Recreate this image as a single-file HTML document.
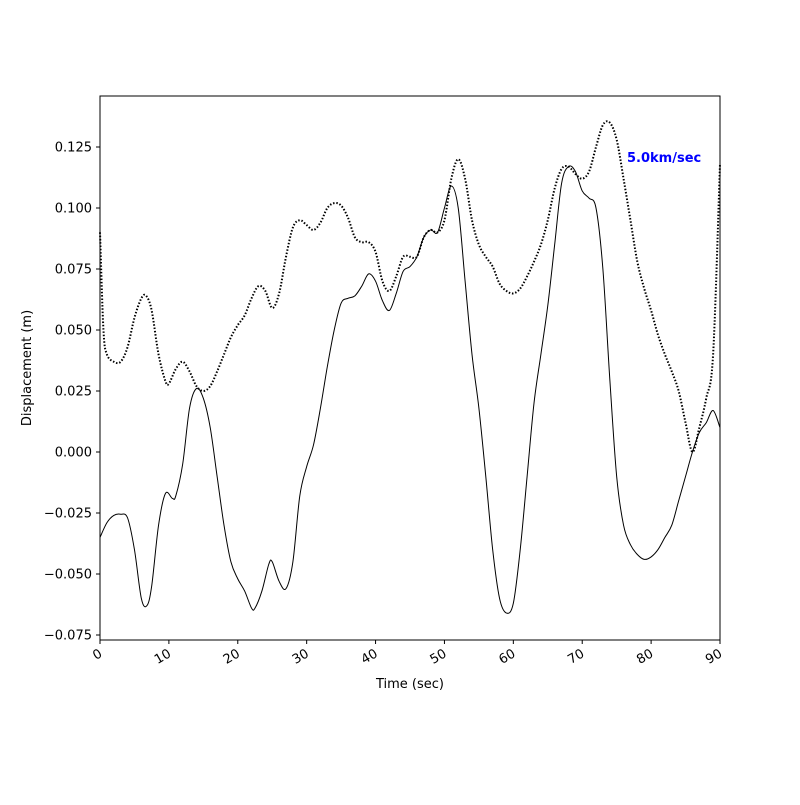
<!DOCTYPE html>
<html><head><meta charset="utf-8"><style>
body{margin:0;background:#fff}
svg text{font-family:"DejaVu Sans","Liberation Sans",sans-serif;font-size:13px}
</style></head><body>
<svg id="chart" width="800" height="800">
<rect width="800" height="800" fill="#fff"/>
<g id="plot"></g>
<rect x="100" y="96" width="620" height="544" fill="none" stroke="#000" stroke-width="1"/>
<g id="axes"></g>
<text x="410" y="688" text-anchor="middle">Time (sec)</text>
<text x="31" y="368" text-anchor="middle" transform="rotate(-90 31 368)">Displacement (m)</text>
<text x="627" y="162" fill="#0000ff" font-weight="bold" style="font-size:13px">5.0km/sec</text>
</svg>
<script>
const solidT=[0,1,2,3,4,5,6,6.8,7.5,8.5,9.5,10.5,11,12,13,14,15,16,17,18,19,20,21,22,22.5,23.5,24.5,25,26,27,28,29,30,31,32,33,34,35,36,37,38,39,40,41,42,43,44,45,46,47,48,49,50,51,52,53,54,55,56,57,58,59,60,61,62,63,64,65,66,67,68,69,70,71,72,73,74,75,76,77,78,79,80,81,82,83,84,85,86,87,88,89,90];
const solidV=[-0.035,-0.029,-0.026,-0.0255,-0.027,-0.04,-0.06,-0.063,-0.055,-0.03,-0.017,-0.019,-0.018,-0.005,0.018,0.026,0.022,0.01,-0.01,-0.03,-0.045,-0.052,-0.057,-0.064,-0.064,-0.057,-0.046,-0.045,-0.053,-0.056,-0.045,-0.018,-0.006,0.003,0.018,0.035,0.05,0.061,0.063,0.064,0.068,0.073,0.07,0.062,0.058,0.065,0.074,0.076,0.08,0.088,0.091,0.09,0.1,0.109,0.1,0.07,0.04,0.018,-0.01,-0.04,-0.06,-0.066,-0.062,-0.04,-0.01,0.02,0.04,0.06,0.085,0.11,0.117,0.115,0.107,0.104,0.1,0.075,0.03,-0.01,-0.03,-0.038,-0.042,-0.044,-0.043,-0.04,-0.035,-0.03,-0.02,-0.01,0.0,0.008,0.012,0.017,0.01];
const dotT=[0,0.5,1,2,3,4,5,6,6.7,7.5,8.5,9.5,10,11,12,13,14,15,16,17,18,19,20,21,22,23,24,25,26,27,28,29,30,31,32,33,34,35,36,37,38,39,40,41,42,43,44,45,46,47,48,49,50,51,52,53,54,55,56,57,58,59,60,61,62,63,64,65,66,67,68,69,70,71,72,73,74,75,76,77,78,79,80,81,82,83,84,85,86,87,88,89,90];
const dotV=[0.09,0.05,0.04,0.037,0.037,0.043,0.055,0.063,0.064,0.058,0.04,0.029,0.028,0.034,0.037,0.033,0.027,0.025,0.027,0.033,0.04,0.047,0.052,0.056,0.063,0.068,0.066,0.059,0.065,0.08,0.092,0.095,0.093,0.091,0.094,0.1,0.102,0.101,0.096,0.088,0.086,0.086,0.082,0.07,0.066,0.072,0.08,0.08,0.08,0.088,0.091,0.09,0.095,0.112,0.12,0.112,0.095,0.085,0.08,0.076,0.069,0.066,0.065,0.067,0.072,0.078,0.085,0.095,0.108,0.116,0.117,0.114,0.112,0.115,0.125,0.134,0.135,0.128,0.112,0.095,0.078,0.067,0.058,0.048,0.04,0.033,0.025,0.012,0.0,0.01,0.022,0.04,0.118];
const xTicks=[0,10,20,30,40,50,60,70,80,90];
const yTicks=[-0.075,-0.05,-0.025,0,0.025,0.05,0.075,0.1,0.125];
const yLabels=["\u22120.075","\u22120.050","\u22120.025","0.000","0.025","0.050","0.075","0.100","0.125"];

const NS="http://www.w3.org/2000/svg";
const X=t=>100+t*(620/90);
const Y=v=>452-v*2440;
function smoothPath(ts,vs){
  const p=ts.map((t,i)=>[X(t),Y(vs[i])]);
  let d="M"+p[0][0]+","+p[0][1];
  for(let i=0;i<p.length-1;i++){
    const p0=p[Math.max(0,i-1)],p1=p[i],p2=p[i+1],p3=p[Math.min(p.length-1,i+2)];
    const c1x=p1[0]+(p2[0]-p0[0])/6,c1y=p1[1]+(p2[1]-p0[1])/6;
    const c2x=p2[0]-(p3[0]-p1[0])/6,c2y=p2[1]-(p3[1]-p1[1])/6;
    d+=` C${c1x},${c1y} ${c2x},${c2y} ${p2[0]},${p2[1]}`;
  }
  return d;
}
const plot=document.getElementById('plot');
const s=document.createElementNS(NS,'path');
s.setAttribute('d',smoothPath(solidT,solidV));
s.setAttribute('fill','none');s.setAttribute('stroke','#000');s.setAttribute('stroke-width','1');


plot.appendChild(s);
const d=document.createElementNS(NS,'path');
d.setAttribute('d',smoothPath(dotT,dotV));
d.setAttribute('fill','none');d.setAttribute('stroke','#000');d.setAttribute('stroke-width','2');
d.setAttribute('stroke-dasharray','1.5,1.8');


plot.appendChild(d);

const axes=document.getElementById('axes');
xTicks.forEach(t=>{
  const x=X(t);
  const l=document.createElementNS(NS,'line');
  l.setAttribute('x1',x);l.setAttribute('x2',x);l.setAttribute('y1',640);l.setAttribute('y2',644);l.setAttribute('stroke','#000');
  
  
  axes.appendChild(l);
  const tx=document.createElementNS(NS,'text');
  tx.setAttribute('x',x+3);tx.setAttribute('y',656);tx.setAttribute('text-anchor','end');
  tx.setAttribute('transform',`rotate(-30 ${x+3} 656)`);
  tx.textContent=t;
  
  
  axes.appendChild(tx);
});
yTicks.forEach((v,i)=>{
  const y=Y(v);
  const l=document.createElementNS(NS,'line');
  l.setAttribute('x1',96);l.setAttribute('x2',100);l.setAttribute('y1',y);l.setAttribute('y2',y);l.setAttribute('stroke','#000');
  
  
  axes.appendChild(l);
  const tx=document.createElementNS(NS,'text');
  tx.setAttribute('x',92);tx.setAttribute('y',y+4.5);tx.setAttribute('text-anchor','end');
  tx.textContent=yLabels[i];
  
  
  axes.appendChild(tx);
});
</script>
</body></html>
